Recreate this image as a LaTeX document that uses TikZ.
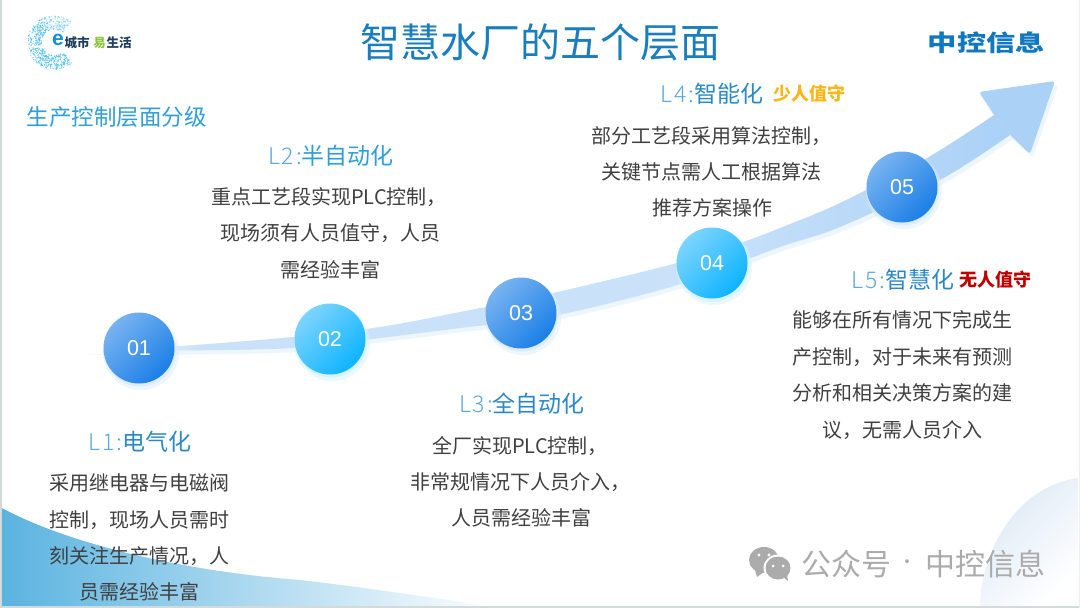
\documentclass[tikz,border=0pt]{standalone}
\usepackage{fontspec}
\usepackage{graphicx}
\setmainfont{Noto Sans CJK SC}
\newfontfamily\cjklight{Noto Sans CJK SC Light}
\newfontfamily\cjkblack{Noto Sans CJK SC Black}
\newfontfamily\latin{Liberation Sans}
\definecolor{ttl}{HTML}{1A7DBE}
\definecolor{sub}{HTML}{2E9FD8}
\definecolor{hd}{HTML}{2A88C8}
\definecolor{hdl}{HTML}{5BA8DC}
\definecolor{bodytxt}{HTML}{404040}
\definecolor{ribA}{HTML}{C9E2F9}
\definecolor{ribB}{HTML}{ABD1F7}
\definecolor{ribS}{HTML}{EDF5FD}
\definecolor{ballAa}{HTML}{78B3F1}
\definecolor{ballAb}{HTML}{1B7FE6}
\definecolor{ballBa}{HTML}{7DD4FF}
\definecolor{ballBb}{HTML}{0DB4FF}
\definecolor{shA}{HTML}{DCECFC}
\definecolor{shB}{HTML}{D6F3FF}
\definecolor{waveA}{HTML}{5AB3E0}
\definecolor{waveC}{HTML}{DCE9F6}
\definecolor{wm}{HTML}{ABABAB}
\definecolor{brand}{HTML}{0F78C0}
\definecolor{edge}{HTML}{D3DADA}
\definecolor{dotc}{HTML}{45BBEE}
\definecolor{logod}{HTML}{1F3F5C}
\definecolor{logog}{HTML}{8DC63F}
\definecolor{logoe}{HTML}{1291D8}
\definecolor{gold}{HTML}{FDB515}
\definecolor{crimson}{HTML}{C00000}
\pgfdeclarehorizontalshading{ribsh}{100bp}{color(0bp)=(white); color(25bp)=(white); color(31bp)=(ribA); color(58bp)=(ribA); color(75bp)=(ribB); color(100bp)=(ribB)}
\tikzset{x=1pt,y=-1pt,
 headtxt/.style={text=hd,font=\fontsize{23}{27}\selectfont,inner sep=0pt,text height=20.2pt,text depth=2.8pt},
 para/.style={text=bodytxt,font=\fontsize{20}{24}\selectfont,inner sep=0pt,text height=17.6pt,text depth=2.4pt},
 balla/.style={circle,minimum size=71pt,inner sep=0pt,top color=ballAa,bottom color=ballAb,shading angle=45,text=white,font=\latin\fontsize{21.5}{26}\selectfont},
 ballb/.style={circle,minimum size=71pt,inner sep=0pt,top color=ballBa,bottom color=ballBb,shading angle=45,text=white,font=\latin\fontsize{21.5}{26}\selectfont},
 tagtxt/.style={font=\fontsize{18}{22}\bfseries\selectfont,inner sep=0pt,text height=15.8pt,text depth=2.2pt}}
\newcommand{\hl}[1]{{\cjklight\addfontfeature{LetterSpace=8}\color{hdl}#1}}
\newcommand{\shaftpath}{plot[smooth,tension=.55] coordinates {(994,115) (927,158) (840,203) (780,228) (743,242) (677,263) (553,293) (460,312) (380,327) (293,337) (180,346) (88,350.5)} -- plot[smooth,tension=.55] coordinates {(88,350.5) (180,350.5) (293,348) (380,338) (460,328) (553,316) (677,285) (780,247) (840,227) (940,180) (1010,135)} -- cycle}
\newcommand{\headpath}{[rounded corners=3pt] (994,115) -- (979,92) -- (1055,81) -- (1030,154) -- (1010,135) -- cycle}
\newcommand{\ballshadow}[3]{\fill[#3,opacity=.5] (#1+2,#2+4) circle (38pt); \fill[#3] (#1+1,#2+2.5) circle (36pt);}
\begin{document}
\begin{tikzpicture}
\useasboundingbox (0,0) rectangle (1080,608);
\fill[white] (0,0) rectangle (1080,608);
% corner waves
\shade[top color=waveC,bottom color=white,shading angle=45] (980,607) .. controls (980,560) and (1010,488) .. (1078,478) -- (1078,607) -- cycle;
\shade[left color=waveA,right color=white] (0,507) .. controls (60,540) and (170,570) .. (300,580) .. controls (370,588) and (430,598) .. (500,607) -- (0,607) -- cycle;
% page edges
\fill[edge] (0,606) rectangle (1080,608);
\fill[edge] (0,0) rectangle (1.5,608);
\fill[edge!40] (1078.5,0) rectangle (1080,608);
% ribbon shadow
\begin{scope}[shift={(3,4)}]
\fill[ribS] \shaftpath;
\fill[ribS] \headpath;
\end{scope}
% ribbon
\shade[shading=ribsh] \shaftpath;
\fill[ribB] \headpath;
% balls
\ballshadow{139}{348}{shA}
\ballshadow{330}{339}{shB}
\ballshadow{521}{313}{shA}
\ballshadow{712}{263}{shB}
\ballshadow{902}{187}{shA}
\node[balla] (n01) at (139,348) {01};
\node[ballb] (n02) at (330,339) {02};
\node[balla] (n03) at (521,313) {03};
\node[ballb] (n04) at (712,263) {04};
\node[balla] (n05) at (902,187) {05};
% title
\node[text=ttl,font=\fontsize{40}{48}\selectfont,inner sep=0pt,text height=35.2pt,text depth=4.8pt] (title) at (540.5,42) {智慧水厂的五个层面};
\node[text=sub,font=\fontsize{22.5}{27}\selectfont,inner sep=0pt,text height=19.8pt,text depth=2.7pt] (subt) at (117,117) {生产控制层面分级};
% brand
\node[text=brand,font=\cjkblack\fontsize{29.3}{32}\selectfont,inner sep=0pt] (brandn) at (986.5,43) {\scalebox{1}[.78]{中控信息}};
% logo
\pgfmathsetseed{11}
\foreach \i in {1,...,800}{
 \pgfmathsetmacro\ang{50+262*rnd}
 \pgfmathsetmacro\rad{13+14*rnd}
 \pgfmathsetmacro\op{(\ang<110 ? .25+.3*rnd : .5+.5*rnd)}
 \fill[dotc,opacity=\op] ({54.5+\rad*cos(\ang)},{42.5-\rad*sin(\ang)}) circle (.6pt);
}
\fill[white] (30,45.5) -- (54,45.5) -- (54,48) -- (30,47.5) -- cycle;
\node[text=logoe,font=\latin\fontsize{21}{22}\bfseries\selectfont,inner sep=0pt] (loge) at (58,40) {e};
\node[text=logod,font=\fontsize{12.5}{14}\bfseries\selectfont,inner sep=0pt] (logoa) at (77,43) {城市};
\node[text=logog,font=\fontsize{12.5}{14}\bfseries\selectfont,inner sep=0pt] (logob) at (99.5,43) {易};
\node[text=logod,font=\fontsize{12.5}{14}\bfseries\selectfont,inner sep=0pt] (logoc) at (119,43) {生活};
% L1
\node[headtxt] (h1) at (140,442) {\hl{L1:}电气化};
\node[para] (a1) at (139.5,483) {采用继电器与电磁阀};
\node[para] (a2) at (139.5,520) {控制，现场人员需时};
\node[para] (a3) at (139.5,556) {刻关注生产情况，人};
\node[para] (a4) at (139.5,592) {员需经验丰富};
% L2
\node[headtxt,text=sub] (h2) at (331,156) {\hl{L2:}半自动化};
\node[para] (b1) at (329,197) {重点工艺段实现PLC控制，};
\node[para] (b2) at (330,233) {现场须有人员值守，人员};
\node[para] (b3) at (330,270) {需经验丰富};
% L3
\node[headtxt] (h3) at (522,404) {\hl{L3:}全自动化};
\node[para] (c1) at (520,446) {全厂实现PLC控制，};
\node[para] (c2) at (520,482) {非常规情况下人员介入，};
\node[para] (c3) at (521,518) {人员需经验丰富};
% L4
\node[headtxt] (h4) at (712,94) {\hl{L4:}智能化};
\node[tagtxt,text=gold] (t4) at (809,94) {少人值守};
\node[para] (d1) at (711,136) {部分工艺段采用算法控制，};
\node[para] (d2) at (711,172) {关键节点需人工根据算法};
\node[para] (d3) at (712,208) {推荐方案操作};
% L5
\node[headtxt] (h5) at (903,280) {\hl{L5:}智慧化};
\node[tagtxt,text=crimson] (t5) at (995.5,280) {无人值守};
\node[para] (e1) at (902.5,320) {能够在所有情况下完成生};
\node[para] (e2) at (902.5,357) {产控制，对于未来有预测};
\node[para] (e3) at (902.5,393) {分析和相关决策方案的建};
\node[para] (e4) at (902.5,430) {议，无需人员介入};
% watermark
\fill[wm] (764,560) ellipse (15pt and 13pt);
\fill[wm] (755,570) -- (757,577) -- (764,572) -- cycle;
\fill[white] (778,568) ellipse (14.5pt and 13.5pt);
\fill[wm] (778,568) ellipse (12.5pt and 11.5pt);
\fill[wm] (783,577) -- (788,581) -- (787,574) -- cycle;
\fill[white] (759,555) circle (1.7pt) (769,555) circle (1.7pt) (773,566) circle (1.5pt) (783,566) circle (1.5pt);
\node[text=wm,font=\fontsize{30}{32}\selectfont,inner sep=0pt,text height=26.4pt,text depth=3.6pt] (wma) at (846,564) {公众号};
\node[text=wm,font=\fontsize{18}{20}\selectfont,inner sep=0pt] (wmb) at (907,564) {·};
\node[text=wm,font=\fontsize{30}{32}\selectfont,inner sep=0pt,text height=26.4pt,text depth=3.6pt] (wmc) at (985.5,564) {中控信息};
\end{tikzpicture}
\end{document}
